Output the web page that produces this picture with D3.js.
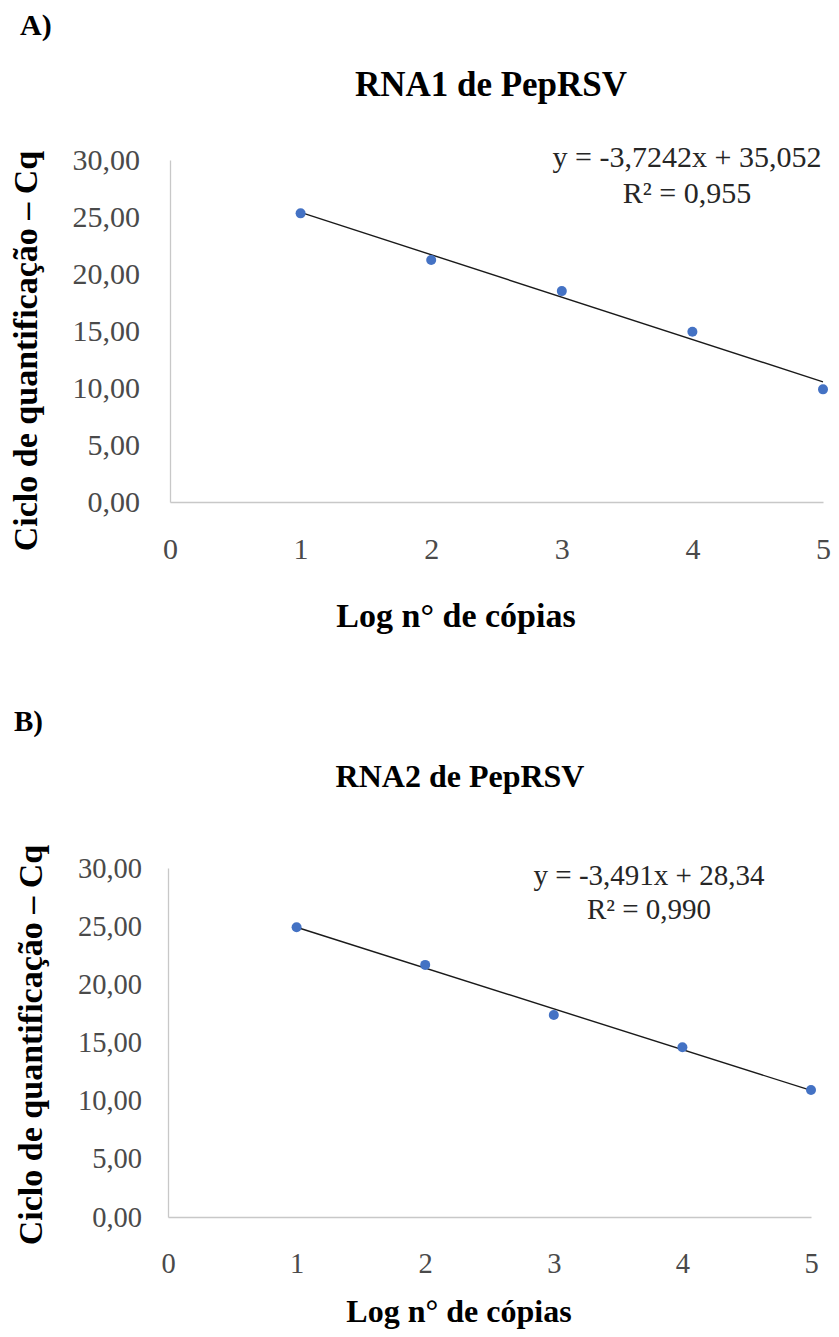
<!DOCTYPE html>
<html>
<head>
<meta charset="utf-8">
<script src="https://cdn.jsdelivr.net/npm/d3@7"></script>
<style>
  html, body { margin: 0; padding: 0; background: #fff; }
  svg { display: block; }
  text { font-family: "Liberation Serif", "Times New Roman", serif; }
</style>
</head>
<body>
<svg id="fig" width="839" height="1337"></svg>
<script>
// Standard curves: log copy number vs quantification cycle
const logCopies = [1, 2, 3, 4, 5];
const cqRNA1 = [25.32, 21.23, 18.50, 14.94, 9.88];
const cqRNA2 = [24.91, 21.67, 17.37, 14.59, 10.92];

const panelLetters = ["A)", "B)"];
const panelTitles = ["RNA1 de PepRSV", "RNA2 de PepRSV"];
const equations = ["y = -3,7242x + 35,052", "y = -3,491x + 28,34"];
const rSquared = ["R² = 0,955", "R² = 0,990"];

const xTicks = [0, 1, 2, 3, 4, 5];
const yTicks = [0, 5, 10, 15, 20, 25, 30];
const xTitle = "Log n° de cópias";
const yTitle = "Ciclo de quantificação – Cq";

const ptLocale = d3.formatLocale({ decimal: ",", thousands: ".", grouping: [3], currency: ["R$", ""] });
const fmtY = ptLocale.format(".2f");

const svg = d3.select("#fig");

// least-squares line through the standards
function fit(xs, ys) {
  const mx = d3.mean(xs), my = d3.mean(ys);
  let sxy = 0, sxx = 0;
  xs.forEach((x, i) => { sxy += (x - mx) * (ys[i] - my); sxx += (x - mx) ** 2; });
  const b = sxy / sxx;
  return { slope: b, intercept: my - b * mx };
}

function drawPanel(p) {
  const g = svg.append("g");
  const x = d3.scaleLinear().domain([0, 5]).range([p.left, p.right]);
  const y = d3.scaleLinear().domain([0, 30]).range([p.bottom, p.top]);

  g.append("text").attr("x", p.letterX).attr("y", p.letterY)
    .attr("font-size", p.letterSize).attr("font-weight", "bold").attr("fill", "#000")
    .text(p.letter);

  g.append("text").attr("x", p.titleX).attr("y", p.titleY)
    .attr("text-anchor", "middle").attr("font-size", p.titleSize)
    .attr("font-weight", "bold").attr("fill", "#000").text(p.title);

  // y axis
  const ya = g.append("g").attr("transform", `translate(${p.left},0)`)
    .call(d3.axisLeft(y).tickValues(yTicks).tickFormat(fmtY).tickSize(0).tickPadding(p.yPad));
  ya.select(".domain").attr("stroke", "#c8c8c8").attr("stroke-width", 1.3);
  ya.selectAll("text").attr("font-size", p.tickSize).attr("fill", "#4a4a4a")
    .attr("font-family", "Liberation Serif, Times New Roman, serif");

  // x axis
  const xa = g.append("g").attr("transform", `translate(0,${p.bottom})`)
    .call(d3.axisBottom(x).tickValues(xTicks).tickFormat(d3.format("d")).tickSize(0).tickPadding(p.xPad));
  xa.select(".domain").attr("stroke", "#c8c8c8").attr("stroke-width", 1.3);
  xa.selectAll("text").attr("font-size", p.tickSize).attr("fill", "#4a4a4a")
    .attr("font-family", "Liberation Serif, Times New Roman, serif");

  // trendline
  const f = fit(logCopies, p.values);
  const x0 = d3.min(logCopies), x1 = d3.max(logCopies);
  g.append("line")
    .attr("x1", x(x0)).attr("y1", y(f.intercept + f.slope * x0))
    .attr("x2", x(x1)).attr("y2", y(f.intercept + f.slope * x1))
    .attr("stroke", "#1a1a1a").attr("stroke-width", 1.4);

  // points
  g.selectAll("circle.pt").data(logCopies).join("circle")
    .attr("class", "pt")
    .attr("cx", d => x(d)).attr("cy", (d, i) => y(p.values[i]))
    .attr("r", 5).attr("fill", "#4472c4");

  // equation + R²
  g.append("text").attr("x", p.eqX).attr("y", p.eqY).attr("text-anchor", "middle")
    .attr("font-size", p.eqSize).attr("fill", "#262626").text(p.eq);
  g.append("text").attr("x", p.eqX).attr("y", p.eqY + p.eqGap).attr("text-anchor", "middle")
    .attr("font-size", p.eqSize).attr("fill", "#262626").text(p.r2);

  // axis titles
  g.append("text").attr("x", p.xTitleX).attr("y", p.xTitleY).attr("text-anchor", "middle")
    .attr("font-size", p.axTitleSize).attr("font-weight", "bold").attr("fill", "#000").text(xTitle);
  g.append("text")
    .attr("transform", `translate(${p.yTitleX},${p.yTitleY}) rotate(-90)`)
    .attr("text-anchor", "middle").attr("font-size", p.yTitleSize)
    .attr("font-weight", "bold").attr("fill", "#000").text(yTitle);
}

drawPanel({
  letter: panelLetters[0], title: panelTitles[0], values: cqRNA1,
  eq: equations[0], r2: rSquared[0],
  left: 170, right: 823, top: 160, bottom: 502,
  letterX: 20, letterY: 35, letterSize: 30,
  titleX: 491, titleY: 96, titleSize: 35,
  tickSize: 30, yPad: 30, xPad: 36,
  eqX: 687, eqY: 167, eqGap: 36, eqSize: 30,
  xTitleX: 456, xTitleY: 627, axTitleSize: 34,
  yTitleX: 37, yTitleY: 351, yTitleSize: 34
});

drawPanel({
  letter: panelLetters[1], title: panelTitles[1], values: cqRNA2,
  eq: equations[1], r2: rSquared[1],
  left: 168, right: 811, top: 868, bottom: 1217,
  letterX: 14, letterY: 731, letterSize: 29,
  titleX: 460, titleY: 787, titleSize: 32,
  tickSize: 28.5, yPad: 26, xPad: 36,
  eqX: 649, eqY: 885, eqGap: 34, eqSize: 29,
  xTitleX: 459, xTitleY: 1322, axTitleSize: 32,
  yTitleX: 42, yTitleY: 1045, yTitleSize: 34
});
</script>
</body>
</html>
